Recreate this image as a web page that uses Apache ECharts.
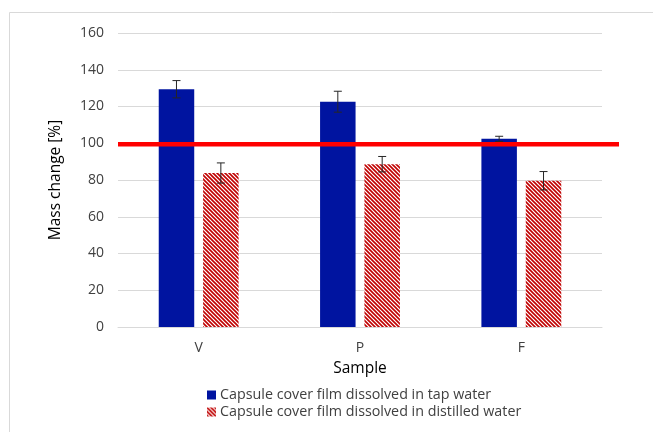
<!DOCTYPE html>
<html><head><meta charset="utf-8">
<script src="https://cdn.jsdelivr.net/npm/echarts@6/dist/echarts.min.js"></script>
<style>html,body{margin:0;padding:0;background:#fff;}#c{width:653px;height:432px;}</style>
</head><body><div id="c"></div>
<script>
var categories = ['V', 'P', 'F'];
var tapWater = [129.4, 122.6, 102.4];
var tapWaterErr = [4.7, 5.7, 1.4];
var distilledWater = [83.8, 88.6, 79.6];
var distilledWaterErr = [5.5, 4.2, 5.0];
var refLineX = [0, 1];
var refLineY = [99.5, 99.5];
var yTicks = [0, 20, 40, 60, 80, 100, 120, 140, 160];

var FONT = '"Open Sans", "Liberation Sans", Arial, sans-serif';

function makeHatch() {
  var s = 4;
  var cv = document.createElement('canvas');
  cv.width = s; cv.height = s;
  var ctx = cv.getContext('2d');
  ctx.fillStyle = '#ffffff';
  ctx.fillRect(0, 0, s, s);
  ctx.strokeStyle = '#c00000';
  ctx.lineWidth = 1.6;
  ctx.beginPath();
  ctx.moveTo(-1, -1); ctx.lineTo(s + 1, s + 1);
  ctx.moveTo(-1, s - 1); ctx.lineTo(1, s + 1);
  ctx.moveTo(s - 1, -1); ctx.lineTo(s + 1, 1);
  ctx.stroke();
  return cv;
}
var hatch = { image: makeHatch(), repeat: 'repeat' };

var BW = 0.22, BG = 0.25;
function errRender(values, errs, sign) {
  return function (params, api) {
    var i = api.value(0);
    var band = api.size([1, 0])[0];
    var off = sign * band * BW * (1 + BG) / 2;
    var hi = api.coord([i, values[i] + errs[i]]);
    var lo = api.coord([i, values[i] - errs[i]]);
    var x = hi[0] + off;
    var cap = 4;
    var st = { stroke: '#262626', lineWidth: 1 };
    return {
      type: 'group',
      children: [
        { type: 'line', shape: { x1: x, y1: hi[1], x2: x, y2: lo[1] }, style: st },
        { type: 'line', shape: { x1: x - cap, y1: hi[1], x2: x + cap, y2: hi[1] }, style: st },
        { type: 'line', shape: { x1: x - cap, y1: lo[1], x2: x + cap, y2: lo[1] }, style: st }
      ]
    };
  };
}

var chart = echarts.init(document.getElementById('c'), null, { renderer: 'canvas' });
chart.setOption({
  animation: false,
  backgroundColor: '#ffffff',
  textStyle: { fontFamily: FONT },
  graphic: [{
    type: 'rect', silent: true, z: -10,
    shape: { x: 9.5, y: 12.5, width: 700, height: 500 },
    style: { fill: 'none', stroke: '#d9d9d9', lineWidth: 1 }
  }],
  grid: [
    { left: 118, right: 51, top: 33, bottom: 105 },
    { left: 118, right: 34, top: 33, bottom: 105 }
  ],
  legend: {
    orient: 'vertical', left: 202, top: 383,
    itemWidth: 9, itemHeight: 9, itemGap: 3,
    textStyle: { fontFamily: FONT, fontSize: 14.3, color: '#404040', padding: [0, 0, 0, -1] },
    data: [
      { name: 'Capsule cover film dissolved in tap water', icon: 'rect' },
      { name: 'Capsule cover film dissolved in distilled water', icon: 'rect' }
    ]
  },
  xAxis: [{
    type: 'category', gridIndex: 0, data: categories,
    name: 'Sample', nameLocation: 'middle', nameGap: 34,
    nameTextStyle: { fontFamily: FONT, fontSize: 15.5, color: '#000' },
    axisLine: { lineStyle: { color: '#d9d9d9' } },
    axisTick: { show: false },
    axisLabel: { fontFamily: FONT, fontSize: 14, color: '#404040', margin: 14 }
  }, {
    type: 'value', gridIndex: 1, min: 0, max: 1, show: false
  }],
  yAxis: [{
    type: 'value', gridIndex: 0, min: yTicks[0], max: yTicks[yTicks.length - 1], interval: 20,
    name: 'Mass change [%]', nameLocation: 'middle', nameGap: 54, nameRotate: 90,
    nameTextStyle: { fontFamily: FONT, fontSize: 15.5, color: '#000' },
    axisLine: { show: false }, axisTick: { show: false },
    splitLine: { lineStyle: { color: '#d9d9d9', width: 1 } },
    axisLabel: { fontFamily: FONT, fontSize: 14, color: '#404040', margin: 14 }
  }, {
    type: 'value', gridIndex: 1, min: 0, max: 160, show: false
  }],
  series: [
    {
      name: 'Capsule cover film dissolved in tap water', type: 'bar',
      xAxisIndex: 0, yAxisIndex: 0,
      data: tapWater, barWidth: (BW * 100) + '%', barGap: (BG * 100) + '%',
      itemStyle: { color: '#0014a0' }
    },
    {
      name: 'Capsule cover film dissolved in distilled water', type: 'bar',
      xAxisIndex: 0, yAxisIndex: 0,
      data: distilledWater, barWidth: (BW * 100) + '%',
      itemStyle: { color: hatch }
    },
    {
      type: 'custom', xAxisIndex: 0, yAxisIndex: 0, z: 5,
      data: categories.map(function (c, i) { return [i]; }),
      renderItem: errRender(tapWater, tapWaterErr, -1)
    },
    {
      type: 'custom', xAxisIndex: 0, yAxisIndex: 0, z: 5,
      data: categories.map(function (c, i) { return [i]; }),
      renderItem: errRender(distilledWater, distilledWaterErr, 1)
    },
    {
      type: 'line', xAxisIndex: 1, yAxisIndex: 1, z: 10,
      data: refLineX.map(function (x, i) { return [x, refLineY[i]]; }),
      symbol: 'none',
      lineStyle: { color: '#ff0000', width: 4.5 }
    }
  ]
});
</script>
</body></html>
